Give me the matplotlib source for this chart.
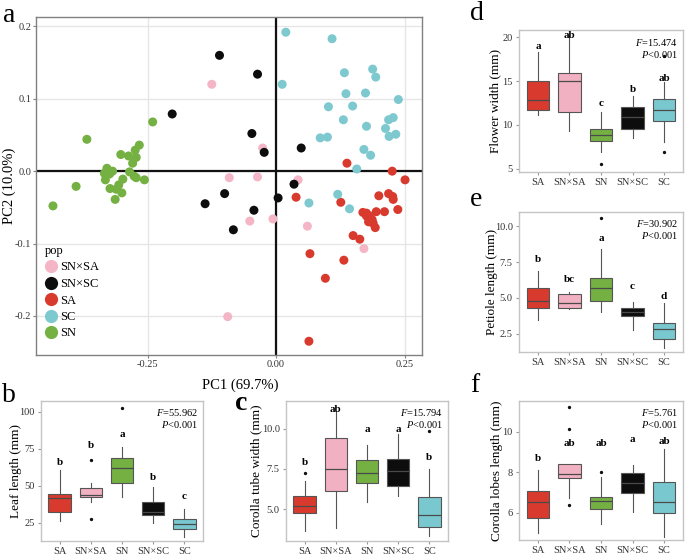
import matplotlib
matplotlib.use("Agg")
import matplotlib.pyplot as plt
from matplotlib.lines import Line2D

plt.rcParams['font.family'] = ['Liberation Serif', 'DejaVu Serif']
plt.rcParams['mathtext.fontset'] = 'custom'
plt.rcParams['mathtext.rm'] = 'Liberation Serif'
plt.rcParams['mathtext.it'] = 'Liberation Serif:italic'

# ---- PCA scores (panel a) ----
snsa_pc1 = [-0.125, -0.026, -0.091, -0.036, -0.051, -0.006, -0.094, 0.043, 0.061, 0.171]
snsa_pc2 = [0.120, 0.032, -0.009, -0.008, -0.069, -0.066, -0.201, -0.012, -0.076, -0.107]
snsc_pc1 = [-0.110, -0.036, -0.202, -0.047, -0.023, 0.049, 0.035, -0.100, 0.004, -0.138, -0.043, -0.083]
snsc_pc2 = [0.160, 0.134, 0.079, 0.052, 0.026, 0.032, -0.018, -0.031, -0.037, -0.045, -0.054, -0.081]
sa_pc1 = [0.138, 0.226, 0.251, 0.039, 0.126, 0.200, 0.219, 0.227, 0.228, 0.237, 0.169, 0.176,
          0.195, 0.211, 0.187, 0.189, 0.193, 0.183, 0.150, 0.163, 0.066, 0.132, 0.096, 0.064,
          0.180, 0.176]
sa_pc2 = [0.011, 0.000, -0.012, -0.036, -0.043, -0.034, -0.031, -0.035, -0.039, -0.053, -0.057, -0.062,
          -0.056, -0.056, -0.067, -0.072, -0.078, -0.062, -0.089, -0.094, -0.114, -0.123, -0.148, -0.235,
          -0.070, -0.058]
sc_pc1 = [0.019, 0.109, 0.133, 0.188, 0.194, 0.012, 0.136, 0.174, 0.238, 0.102, 0.149, 0.131,
          0.176, 0.219, 0.228, 0.213, 0.220, 0.233, 0.086, 0.100, 0.171, 0.184, 0.157, 0.120,
          0.064, 0.143]
sc_pc2 = [0.192, 0.183, 0.136, 0.141, 0.130, 0.120, 0.107, 0.108, 0.099, 0.089, 0.090, 0.071,
          0.062, 0.071, 0.074, 0.059, 0.048, 0.051, 0.046, 0.047, 0.030, 0.022, 0.003, -0.032,
          -0.044, -0.052]
sn_pc1 = [-0.240, -0.368, -0.266, -0.274, -0.302, -0.287, -0.272, -0.279, -0.329, -0.334, -0.324,
          -0.332, -0.285, -0.276, -0.272, -0.256, -0.298, -0.306, -0.323, -0.311, -0.389, -0.313,
          -0.434, -0.318, -0.300]
sn_pc2 = [0.068, 0.044, 0.036, 0.029, 0.023, 0.021, 0.019, 0.011, 0.004, -0.003, -0.004,
          -0.012, -0.001, -0.007, -0.009, -0.012, -0.011, -0.019, -0.024, -0.025, -0.021, -0.039,
          -0.048, 0.000, -0.030]

# ---- box plot summaries (panels b-f) ----
groups = ["SA", "SN×SA", "SN", "SN×SC", "SC"]

leaf_q1 = [32.4, 42.6, 51.6, 30.2, 20.5]
leaf_med = [41.4, 43.7, 61.7, 32.4, 23.9]
leaf_q3 = [44.4, 48.2, 69.1, 38.7, 27.3]
leaf_lo = [26.4, 39.2, 42.6, 24.5, 15.5]
leaf_hi = [60.6, 52.0, 76.4, 48.9, 34.0]
leaf_out = [[], [67.3, 27.5], [102.9], [], []]
leaf_let = ["b", "b", "a", "b", "c"]
leaf_let_y = [65.8, 77.5, 84.9, 55.4, 42.6]

tube_q1 = [4.77, 6.14, 6.59, 6.45, 3.90]
tube_med = [5.19, 7.48, 7.27, 7.36, 4.63]
tube_q3 = [5.81, 9.44, 8.04, 8.14, 5.76]
tube_lo = [3.64, 3.84, 5.41, 5.81, 3.33]
tube_hi = [6.74, 11.1, 8.97, 9.65, 7.52]
tube_out = [[7.25], [], [], [], [9.83]]
tube_let = ["b", "ab", "a", "a", "b"]
tube_let_y = [7.89, 11.17, 9.96, 9.96, 8.18]

flower_q1 = [11.7, 11.5, 8.13, 9.58, 10.5]
flower_med = [12.8, 15.0, 8.9, 10.9, 11.7]
flower_q3 = [15.0, 15.95, 9.58, 12.06, 12.94]
flower_lo = [11.1, 9.3, 6.9, 8.55, 8.05]
flower_hi = [18.3, 20.3, 11.5, 13.3, 14.9]
flower_out = [[], [], [5.5], [], [6.9, 17.9]]
flower_let = ["a", "ab", "c", "b", "ab"]
flower_let_y = [18.9, 20.2, 12.4, 14.0, 15.3]

pet_q1 = [4.31, 4.26, 4.80, 3.72, 2.15]
pet_med = [4.78, 4.66, 5.67, 4.03, 2.86]
pet_q3 = [5.67, 5.29, 6.37, 4.31, 3.28]
pet_lo = [3.49, 4.22, 4.03, 2.79, 1.50]
pet_hi = [6.89, 5.43, 8.41, 4.68, 4.61]
pet_out = [[], [], [10.6], [], []]
pet_let = ["b", "bc", "a", "c", "d"]
pet_let_y = [7.66, 6.25, 9.18, 5.83, 5.08]

lobe_q1 = [5.75, 7.70, 6.16, 6.99, 6.00]
lobe_med = [6.54, 7.89, 6.58, 7.45, 6.51]
lobe_q3 = [7.07, 8.39, 6.79, 7.94, 7.50]
lobe_lo = [4.98, 6.74, 5.42, 6.05, 4.81]
lobe_hi = [8.11, 8.39, 7.78, 8.35, 9.14]
lobe_out = [[], [11.19, 10.12, 6.38], [8.02], [], []]
lobe_let = ["b", "ab", "ab", "a", "ab"]
lobe_let_y = [8.68, 9.42, 9.42, 9.59, 9.51]

box_colors = ["#D93A2E", "#F2B0C3", "#74B042", "#0d0d0d", "#79C8CF"]
pt_colors = {"SN×SA": "#F4B6C6", "SN×SC": "#0d0d0d", "SA": "#D93A2E",
             "SC": "#7DC9CF", "SN": "#74B042"}

W, H = 685, 557
fig = plt.figure(figsize=(W / 100, H / 100), dpi=100)


def px_axes(x0, y0, x1, y1):
    return fig.add_axes([x0 / W, 1 - y1 / H, (x1 - x0) / W, (y1 - y0) / H])


# ---- panel a ----
ax = px_axes(36, 17, 422, 355)
ax.set_xlim(-0.467, 0.284)
ax.set_ylim(-0.254, 0.213)
ax.set_xticks([-0.25, 0.0, 0.25])
ax.set_xticklabels(["-0.25", "0.00", "0.25"])
ax.set_yticks([-0.2, -0.1, 0.0, 0.1, 0.2])
ax.set_yticklabels(["-0.2", "-0.1", "0.0", "0.1", "0.2"])
ax.grid(True, color="#e6e6e6", lw=1.0, zorder=0)
ax.set_axisbelow(True)
ax.axhline(0, color="#111111", lw=1.6, zorder=1)
ax.axvline(0, color="#111111", lw=1.6, zorder=1)
for name, xs, ys in [("SN×SA", snsa_pc1, snsa_pc2), ("SN×SC", snsc_pc1, snsc_pc2),
                     ("SA", sa_pc1, sa_pc2), ("SC", sc_pc1, sc_pc2), ("SN", sn_pc1, sn_pc2)]:
    ax.scatter(xs, ys, s=42, color=pt_colors[name], edgecolors="none", zorder=3)
for sp in ax.spines.values():
    sp.set_color("#808080")
    sp.set_linewidth(1.0)
ax.tick_params(labelsize=7.5, colors="#333333", length=2, color="#808080", pad=1.5)
ax.set_xlabel("PC1 (69.7%)", fontsize=10.5)
ax.set_ylabel("PC2 (10.0%)", fontsize=10.5)
ax.xaxis.set_label_coords((240 - 36) / 386, -(379 - 355) / 338)
ax.yaxis.set_label_coords(-(36 - 16) / 386, 0.5)
handles = [Line2D([], [], ls="none", marker="o", ms=9.5, mfc=pt_colors[n], mec="none")
           for n in ["SN×SA", "SN×SC", "SA", "SC", "SN"]]
leg = ax.legend(handles, ["SN×SA", "SN×SC", "SA", "SC", "SN"], title="pop",
                loc="upper left", bbox_to_anchor=(45 / W, 1 - 245 / H),
                bbox_transform=fig.transFigure, frameon=False,
                fontsize=9, title_fontsize=9, handletextpad=0.2,
                labelspacing=0.36, borderaxespad=0, borderpad=0, handlelength=1.0)
leg._legend_box.align = "left"
fig.text(3 / W, 1 - 16 / H, "a", fontsize=20, va="center", ha="left")


# ---- box panels ----
def box_panel(rect, q1, med, q3, lo, hi, out, lets, let_y, ylim, yticks, yticklabels,
              ylabel, ylab_x, ftxt, letter, letter_xy, bold=False):
    bx = px_axes(*rect)
    stats = []
    for i in range(len(groups)):
        stats.append(dict(q1=q1[i], med=med[i], q3=q3[i], whislo=lo[i], whishi=hi[i],
                          fliers=out[i]))
    arts = bx.bxp(stats, positions=range(1, 6), widths=0.72, patch_artist=True,
                  showfliers=True,
                  boxprops=dict(edgecolor="#555555", lw=0.8),
                  whiskerprops=dict(color="#555555", lw=0.8),
                  capprops=dict(lw=0),
                  medianprops=dict(color="#4a4a4a", lw=0.9),
                  flierprops=dict(marker="o", ms=1.4, mfc="#111111", mec="#111111"))
    for patch, c in zip(arts["boxes"], box_colors):
        patch.set_facecolor(c)
    for i in range(5):
        bx.text(i + 1, let_y[i], lets[i], ha="center", va="center", fontsize=8,
                fontweight="bold")
    bx.set_xlim(0.4, 5.6)
    bx.set_ylim(*ylim)
    bx.set_xticks(range(1, 6))
    bx.set_xticklabels(groups)
    bx.set_yticks(yticks)
    bx.set_yticklabels(yticklabels)
    for sp in bx.spines.values():
        sp.set_color("#c4c4c4")
        sp.set_linewidth(1.0)
    bx.tick_params(labelsize=7.5, colors="#333333", length=2, color="#999999", pad=2.5)
    bx.set_ylabel(ylabel, fontsize=9.5)
    bx.yaxis.set_label_coords(ylab_x, 0.5)
    bx.text(0.97, 0.915, "$F$=" + ftxt, transform=bx.transAxes, ha="right", va="center",
            fontsize=7.5)
    bx.text(0.97, 0.83, "$P$<0.001", transform=bx.transAxes, ha="right", va="center",
            fontsize=7.5)
    fig.text(letter_xy[0] / W, 1 - letter_xy[1] / H, letter, fontsize=20,
             va="center", ha="left", fontweight="bold" if bold else "normal")


box_panel((41, 401, 203, 541), leaf_q1, leaf_med, leaf_q3, leaf_lo, leaf_hi, leaf_out,
          leaf_let, leaf_let_y, (12.6, 107.4), [25, 50, 75, 100], ["25", "50", "75", "100"],
          "Leaf length (mm)", -0.12, "55.962", "b", (2, 396))
box_panel((286, 401, 448, 541), tube_q1, tube_med, tube_q3, tube_lo, tube_hi, tube_out,
          tube_let, tube_let_y, (3.02, 11.71), [5.0, 7.5, 10.0], ["5.0", "7.5", "10.0"],
          "Corolla tube width (mm)", -0.148, "15.794", "c", (235, 403), bold=True)
box_panel((519, 30, 683, 172), flower_q1, flower_med, flower_q3, flower_lo, flower_hi,
          flower_out, flower_let, flower_let_y, (4.62, 20.84), [5, 10, 15, 20],
          ["5", "10", "15", "20"], "Flower width (mm)", -0.11, "15.474", "d", (470, 14))
box_panel((519, 212, 683, 352), pet_q1, pet_med, pet_q3, pet_lo, pet_hi, pet_out,
          pet_let, pet_let_y, (1.22, 11.0), [2.5, 5.0, 7.5, 10.0],
          ["2.5", "5.0", "7.5", "10.0"], "Petiole length (mm)", -0.13, "30.902", "e", (470, 200))
box_panel((519, 401, 683, 540), lobe_q1, lobe_med, lobe_q3, lobe_lo, lobe_hi, lobe_out,
          lobe_let, lobe_let_y, (4.65, 11.51), [6, 8, 10], ["6", "8", "10"],
          "Corolla lobes length (mm)", -0.1, "5.761", "f", (470, 386))

fig.savefig("out.png", dpi=100)
